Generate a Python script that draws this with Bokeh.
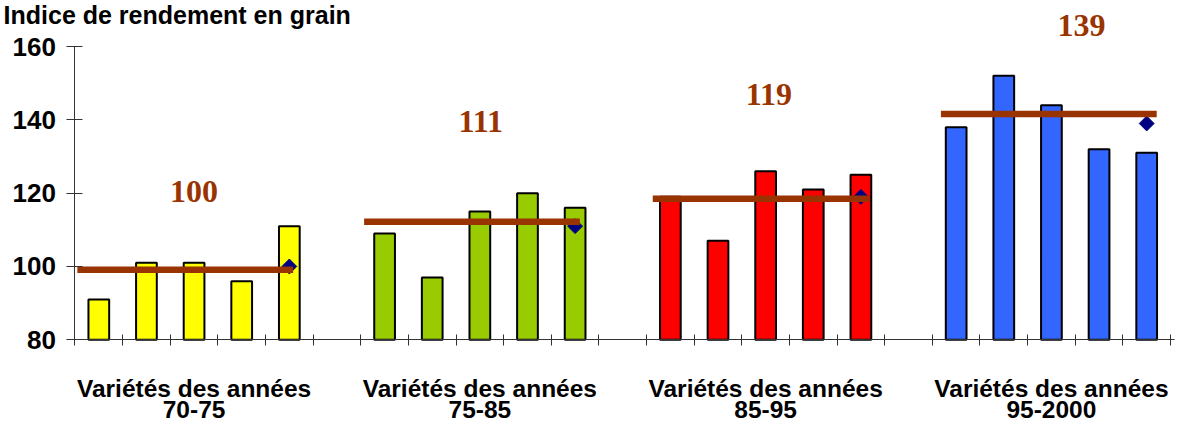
from bokeh.plotting import figure
from bokeh.models import Range1d, FixedTicker, Label, LabelSet, ColumnDataSource
from bokeh.core.properties import value
from bokeh.embed import file_html
from bokeh.resources import INLINE

# ---- data ----
title_text = "Indice de rendement en grain"
group_line1 = ["Variétés des années"] * 4
group_line2 = ["70-75", "75-85", "85-95", "95-2000"]
yield_70_75 = [91, 101, 101, 96, 111]
yield_75_85 = [109, 97, 115, 120, 116]
yield_85_95 = [119, 107, 126, 121, 125]
yield_95_2000 = [138, 152, 144, 132, 131]
group_means = [100, 111, 119, 139]
trend_level = [99.1, 112.2, 118.5, 141.6]
y_ticks = [80, 100, 120, 140, 160]

# ---- styles / layout ----
bar_colors = ["#FFFF00", "#99CC00", "#FF0000", "#3366FF"]
brown = "#993300"
navy = "#000080"
axis_col = "#333333"
SANS = "Liberation Sans"
SERIF = "Liberation Serif"
slot_per_group = 6
line_start_off = [0.05, 0.07, 0.13, 0.18]
line_end_off = [4.58, 4.60, 4.68, 4.71]
mean_label_xoff = [2.5, 2.52, 2.57, 3.13]
mean_label_y = [120.5, 139.5, 146.8, 165.7]
cat_y1, cat_y2 = 66.72, 60.85

all_groups = [yield_70_75, yield_75_85, yield_85_95, yield_95_2000]
n_slots = slot_per_group * len(all_groups) - 1

bx, btop, bcol = [], [], []
for g, vals in enumerate(all_groups):
    for i, v in enumerate(vals):
        bx.append(g * slot_per_group + i + 0.5)
        btop.append(v)
        bcol.append(bar_colors[g])
bars = ColumnDataSource(dict(x=bx, top=btop, color=bcol))

starts = [g * slot_per_group for g in range(len(all_groups))]
trend = ColumnDataSource(dict(
    x0=[s + o for s, o in zip(starts, line_start_off)],
    x1=[s + o for s, o in zip(starts, line_end_off)],
    y=trend_level))
diam = ColumnDataSource(dict(x=[s + len(all_groups[g]) - 0.5 for g, s in enumerate(starts)], y=group_means))
mean_lbl = ColumnDataSource(dict(
    x=[s + o for s, o in zip(starts, mean_label_xoff)], y=mean_label_y,
    text=[str(m) for m in group_means]))
cat_lbl = ColumnDataSource(dict(
    x=[s + 2.5 for s in starts], y1=[cat_y1] * 4, y2=[cat_y2] * 4,
    t1=group_line1, t2=group_line2))

W, H = 1184, 425
p = figure(width=W, height=H, output_backend="svg", toolbar_location=None,
           x_range=Range1d(-1.564, 23.294), y_range=Range1d(56.62, 172.55),
           min_border_left=0, min_border_right=0, min_border_top=0, min_border_bottom=0)
p.outline_line_color = None
p.grid.visible = False
p.background_fill_color = "white"
p.border_fill_color = "white"

p.vbar(x="x", top="top", bottom=80, width=0.435, source=bars,
       fill_color="color", line_color="black", line_width=2)
p.scatter(x="x", y="y", source=diam, marker="square", angle=0.785398, size=10.5,
          fill_color=navy, line_color=navy)
p.segment(x0="x0", y0="y", x1="x1", y1="y", source=trend, line_color=brown,
          line_width=6.5, line_cap="butt")

p.add_layout(LabelSet(x="x", y="y", text="text", source=mean_lbl,
                      text_font=value(SERIF), text_font_style="bold", text_font_size="32px",
                      text_color=brown, text_align="center", text_baseline="middle"))
p.add_layout(LabelSet(x="x", y="y1", text="t1", source=cat_lbl,
                      text_font=value(SANS), text_font_style="bold", text_font_size="24.5px",
                      text_color="black", text_align="center", text_baseline="middle"))
p.add_layout(LabelSet(x="x", y="y2", text="t2", source=cat_lbl,
                      text_font=value(SANS), text_font_style="bold", text_font_size="24.5px",
                      text_color="black", text_align="center", text_baseline="middle"))
p.add_layout(Label(x=-1.50, y=172.55, text=title_text, text_font=SANS,
                   text_font_style="bold", text_font_size="25px", text_color="black",
                   text_baseline="top", text_align="left"))

xa = p.xaxis[0]
xa.fixed_location = 80
xa.ticker = FixedTicker(ticks=list(range(n_slots + 1)))
xa.major_label_text_color = None
xa.major_tick_in = 5
xa.major_tick_out = 6
xa.minor_tick_line_color = None
xa.axis_line_color = axis_col
xa.major_tick_line_color = axis_col
xa.bounds = (-0.16, 23.08)

ya = p.yaxis[0]
ya.fixed_location = 0
ya.ticker = FixedTicker(ticks=y_ticks)
ya.bounds = (79, 160)
ya.major_tick_in = 8
ya.major_tick_out = 8
ya.minor_tick_line_color = None
ya.axis_line_color = axis_col
ya.major_tick_line_color = axis_col
ya.major_label_standoff = 11
ya.major_label_text_font = SANS
ya.major_label_text_font_style = "bold"
ya.major_label_text_font_size = "26px"
ya.major_label_text_color = "black"

open("out.html", "w").write(file_html(p, INLINE))
